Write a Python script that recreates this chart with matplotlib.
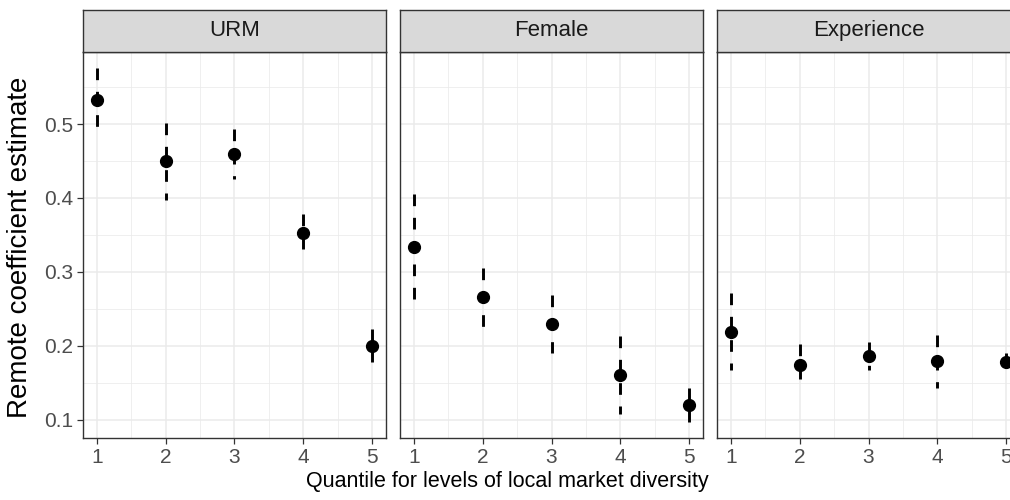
import matplotlib
matplotlib.use("Agg")
import matplotlib.pyplot as plt
import numpy as np

plt.rcParams['font.family'] = ['Liberation Sans', 'DejaVu Sans']

quantiles = [1, 2, 3, 4, 5]
panels = ["URM", "Female", "Experience"]

urm_est = [0.532, 0.450, 0.460, 0.353, 0.200]
urm_lo = [0.490, 0.397, 0.426, 0.329, 0.178]
urm_hi = [0.576, 0.501, 0.494, 0.378, 0.222]

female_est = [0.333, 0.266, 0.230, 0.161, 0.120]
female_lo = [0.259, 0.224, 0.190, 0.108, 0.097]
female_hi = [0.406, 0.305, 0.268, 0.213, 0.143]

exp_est = [0.219, 0.174, 0.186, 0.179, 0.178]
exp_lo = [0.167, 0.146, 0.167, 0.143, 0.168]
exp_hi = [0.271, 0.202, 0.205, 0.214, 0.190]

est = [urm_est, female_est, exp_est]
lo = [urm_lo, female_lo, exp_lo]
hi = [urm_hi, female_hi, exp_hi]

W, H = 1010, 500
fig = plt.figure(figsize=(W / 100, H / 100), dpi=100)

# panel geometry in pixels (third panel runs past the right edge, like the original)
panel_left = [83, 400, 717]
panel_w = 303
panel_top, panel_bot = 51.7, 437.7
strip_top = 10

for i, name in enumerate(panels):
    x0 = panel_left[i] / W
    ax = fig.add_axes([x0, 1 - panel_bot / H, panel_w / W, (panel_bot - panel_top) / H])
    ax.set_xlim(0.8, 5.2)
    ax.set_ylim(0.0755, 0.598)
    ax.set_xticks(quantiles)
    ax.set_xticks([1.5, 2.5, 3.5, 4.5], minor=True)
    ax.set_yticks([0.1, 0.2, 0.3, 0.4, 0.5])
    ax.set_yticks([0.15, 0.25, 0.35, 0.45, 0.55], minor=True)
    ax.grid(which='major', color='#EBEBEB', lw=1.1)
    ax.grid(which='minor', color='#EBEBEB', lw=0.55)
    ax.set_axisbelow(True)
    for s in ax.spines.values():
        s.set_color('#333333')
        s.set_linewidth(1.0)
    ax.tick_params(which='major', length=4.3, width=0.9, color='#333333',
                   labelsize=15, labelcolor='#4D4D4D', pad=3)
    ax.tick_params(which='minor', length=0)
    ax.set_xticklabels([str(q) for q in quantiles])
    if i == 0:
        ax.set_yticklabels(['0.1', '0.2', '0.3', '0.4', '0.5'])
    else:
        ax.tick_params(axis='y', which='major', length=0, labelleft=False)

    for q, m, l, h in zip(quantiles, est[i], lo[i], hi[i]):
        ax.plot([q, q], [h, l], color='black', lw=2.1, dashes=(4, 4),
                dash_capstyle='butt', zorder=3)
    ax.plot(quantiles, est[i], 'o', color='black', ms=8.5, zorder=4)

    # strip
    sax = fig.add_axes([x0, 1 - panel_top / H, panel_w / W, (panel_top - strip_top) / H])
    sax.set_facecolor('#D9D9D9')
    sax.set_xticks([])
    sax.set_yticks([])
    for s in sax.spines.values():
        s.set_color('#333333')
        s.set_linewidth(1.0)
    sax.text(0.5, 0.5, name, ha='center', va='center', fontsize=16,
             color='#1A1A1A', transform=sax.transAxes)

fig.text(0.502, 1 - 482 / H, "Quantile for levels of local market diversity",
         ha='center', va='center', fontsize=15.5, color='black')
fig.text(20 / W, 1 - 247 / H, "Remote coefficient estimate", ha='center', va='center',
         rotation=90, fontsize=20, color='black')

fig.savefig("out.png", dpi=100)
